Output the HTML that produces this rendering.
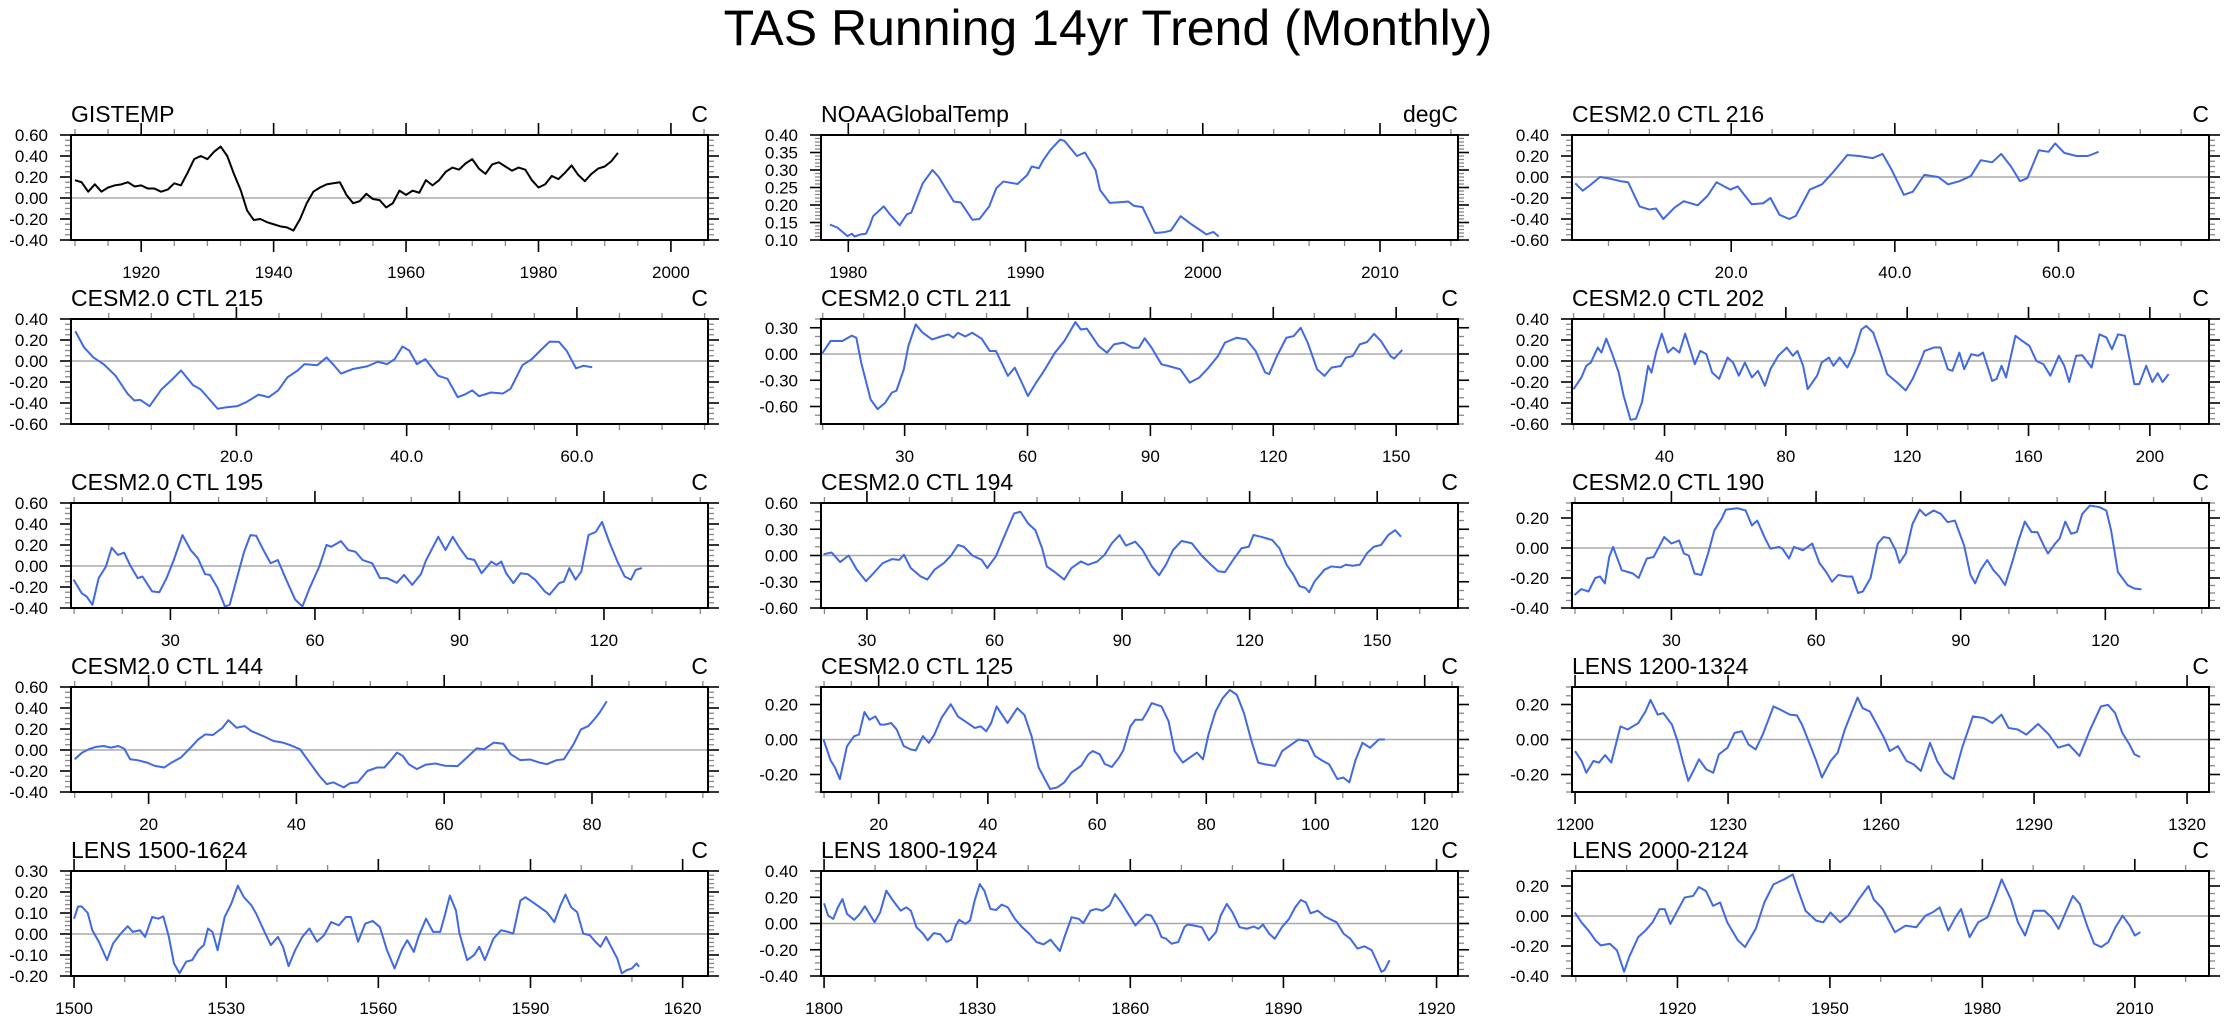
<!DOCTYPE html>
<html><head><meta charset="utf-8"><title>TAS Running 14yr Trend (Monthly)</title>
<style>
html,body{margin:0;padding:0;background:#fff;}
svg{display:block;font-family:"Liberation Sans",Arial,sans-serif;}
</style></head>
<body>
<svg id="fig" xmlns="http://www.w3.org/2000/svg" width="2230" height="1026" viewBox="0 0 2230 1026">
<rect x="0" y="0" width="2230" height="1026" fill="#fff"/>
<text x="1108" y="45" font-size="50" text-anchor="middle" fill="#000">TAS Running 14yr Trend (Monthly)</text>
</svg>
<script>
// ---- data arrays (x = time, y = trend) ----
const gisX=[1910,1911,1912,1913,1914,1915,1916,1917,1918,1919,1920,1921,1922,1923,1924,1925,1926,1927,1928,1929,1930,1931,1932,1933,1934,1935,1936,1937,1938,1939,1940,1941,1942,1943,1944,1945,1946,1947,1948,1949,1950,1951,1952,1953,1954,1955,1956,1957,1958,1959,1960,1961,1962,1963,1964,1965,1966,1967,1968,1969,1970,1971,1972,1973,1974,1975,1976,1977,1978,1979,1980,1981,1982,1983,1984,1985,1986,1987,1988,1989,1990,1991,1992];
const gisY=[0.17,0.15,0.06,0.13,0.06,0.10,0.12,0.13,0.15,0.11,0.12,0.09,0.09,0.06,0.08,0.14,0.12,0.24,0.37,0.40,0.37,0.44,0.49,0.40,0.23,0.08,-0.12,-0.21,-0.20,-0.23,-0.25,-0.27,-0.28,-0.31,-0.20,-0.05,0.06,0.10,0.13,0.14,0.15,0.03,-0.05,-0.03,0.04,-0.01,-0.02,-0.09,-0.05,0.07,0.03,0.07,0.05,0.17,0.12,0.17,0.25,0.29,0.27,0.33,0.37,0.28,0.23,0.32,0.34,0.30,0.26,0.29,0.27,0.17,0.10,0.13,0.21,0.18,0.24,0.31,0.22,0.16,0.23,0.28,0.30,0.35,0.43];

const noaaX=[1978.96,1979.4,1979.95,1980.2,1980.35,1980.7,1981,1981.2,1981.4,1982,1982.35,1982.9,1983.3,1983.55,1984.2,1984.75,1985.1,1985.95,1986.35,1987,1987.4,1987.95,1988.35,1988.75,1989.55,1990.1,1990.35,1990.75,1991,1991.4,1991.95,1992.2,1992.9,1993.35,1993.95,1994.2,1994.75,1995.3,1995.8,1996.1,1996.6,1997.3,1997.8,1998.2,1998.75,1999.3,1999.95,2000.2,2000.6,2000.9];
const noaaY=[0.144,0.135,0.111,0.118,0.11,0.116,0.118,0.14,0.168,0.196,0.173,0.142,0.173,0.178,0.262,0.30,0.28,0.21,0.207,0.158,0.16,0.196,0.248,0.267,0.26,0.286,0.31,0.305,0.328,0.357,0.387,0.383,0.34,0.35,0.30,0.243,0.206,0.208,0.21,0.198,0.194,0.12,0.122,0.127,0.168,0.147,0.125,0.116,0.123,0.11];

const c216X=[0.94,1.85,2.8,3.96,5.1,6.5,7.4,8.8,10,10.8,11.7,13.1,14.2,15.9,17.1,18.2,19.9,20.8,22.5,23.9,24.8,25.9,27.1,27.9,29.6,31.1,32.5,34.2,35.6,37.3,38.5,39.6,41.1,42.2,43.6,45.3,46.5,47.9,49.3,50.5,51.9,53.0,54.2,55.3,56.2,57.6,58.8,59.6,60.7,62.2,63.6,64.9];
const c216Y=[-0.06,-0.13,-0.075,0.0,-0.015,-0.04,-0.05,-0.28,-0.31,-0.30,-0.40,-0.29,-0.23,-0.27,-0.18,-0.05,-0.12,-0.09,-0.26,-0.25,-0.20,-0.36,-0.40,-0.37,-0.12,-0.07,0.05,0.21,0.20,0.18,0.22,0.07,-0.17,-0.14,0.02,0.0,-0.07,-0.04,0.01,0.16,0.14,0.22,0.10,-0.04,-0.01,0.255,0.24,0.32,0.23,0.20,0.20,0.24];

const c215X=[1.08,2.1,3.2,4.4,5.8,7.2,8.0,8.7,9.8,11.2,12.4,13.5,14.9,15.8,17.8,18.9,20.1,21.2,22.6,23.8,24.9,26,27.2,28,29.5,30.6,31.5,32.3,33.7,35.4,36.6,37.7,38.6,39.5,40.3,41.2,42.2,43.7,44.8,46,46.8,47.7,48.5,49.9,51.3,52.2,53.6,54.7,55.8,56.8,57.9,58.8,59.9,60.8,61.8];
const c215Y=[0.283,0.13,0.034,-0.03,-0.14,-0.31,-0.376,-0.37,-0.43,-0.27,-0.18,-0.09,-0.23,-0.27,-0.455,-0.44,-0.43,-0.39,-0.32,-0.345,-0.28,-0.155,-0.09,-0.03,-0.04,0.034,-0.045,-0.12,-0.076,-0.05,-0.007,-0.03,0.018,0.138,0.1,-0.03,0.018,-0.14,-0.17,-0.345,-0.32,-0.28,-0.335,-0.30,-0.31,-0.265,-0.04,0.018,0.107,0.185,0.182,0.097,-0.07,-0.045,-0.06];

const c211X=[9.9,11.9,14.8,17.1,18.2,19.4,21.7,23.4,25.2,26.9,28,29.8,30.9,32.7,34.4,36.7,38.9,40.7,41.9,43,44.8,46.5,48.8,50.8,52.3,55.2,56.9,58.6,60.1,62.1,63.8,66.7,69,71.7,73,74.5,77.4,79.4,81.1,83.4,85.7,87.2,88.6,90.3,92.7,94.4,97.3,99.6,101.9,104.2,106.5,108.2,111.1,113.4,115.7,118,119,120.9,123.2,125,126.7,128.4,130.7,132.5,134.2,136.5,137.7,139.4,141.1,142.9,144.6,146.3,148.6,149.5,151.5];
const c211Y=[0.008,0.148,0.148,0.21,0.186,-0.1,-0.52,-0.63,-0.56,-0.44,-0.42,-0.175,0.09,0.338,0.243,0.167,0.2,0.224,0.186,0.243,0.2,0.243,0.175,0.034,0.034,-0.25,-0.156,-0.327,-0.48,-0.327,-0.21,0.015,0.148,0.365,0.28,0.29,0.09,0.015,0.11,0.13,0.072,0.072,0.18,0.072,-0.118,-0.137,-0.175,-0.327,-0.27,-0.156,-0.023,0.13,0.186,0.167,0.034,-0.21,-0.23,-0.023,0.186,0.205,0.3,0.13,-0.175,-0.25,-0.156,-0.137,-0.042,-0.023,0.11,0.137,0.23,0.148,-0.023,-0.053,0.046];

const c202X=[10,12.6,14.2,15.7,18,19.2,20.8,22.6,24.9,26.5,28.8,30.6,32.6,34.6,35.7,37.2,39.1,41.1,42.9,44.9,46.8,48.8,50,51.8,53.8,55.7,58,60.8,62.6,64.5,66.5,68.8,70.8,73.1,74.9,77.5,80.3,82.3,83.8,85.7,87.2,90.3,91.8,94.2,95.7,97.7,100.3,102.6,104.9,106.5,108.8,111.1,113.4,116.5,119.5,121.8,124.2,125.7,128.8,131,133.4,134.9,137.2,138.8,141.1,143.4,145,148,149.5,151.1,152.6,155.7,158,160.3,162.6,164.9,167.2,170,171.8,173.4,175.7,177.7,180.8,183.4,185.7,187.5,189.5,191.8,194.9,196.5,198.8,200.8,202.6,204.2,206.2];
const c202Y=[-0.268,-0.157,-0.046,-0.015,0.128,0.08,0.213,0.08,-0.11,-0.33,-0.56,-0.55,-0.39,-0.046,-0.11,0.08,0.26,0.08,0.128,0.08,0.26,0.08,-0.03,0.096,0.065,-0.11,-0.17,0.033,-0.015,-0.14,-0.015,-0.157,-0.094,-0.236,-0.078,0.05,0.128,0.05,0.096,-0.046,-0.268,-0.14,-0.015,0.033,-0.046,0.033,-0.062,0.08,0.30,0.334,0.27,0.08,-0.125,-0.2,-0.28,-0.17,-0.015,0.096,0.128,0.128,-0.078,-0.094,0.08,-0.078,0.065,0.05,0.08,-0.19,-0.17,-0.046,-0.157,0.24,0.19,0.144,0.0,-0.03,-0.14,0.05,-0.046,-0.2,0.05,0.055,-0.062,0.254,0.223,0.112,0.254,0.24,-0.22,-0.22,-0.046,-0.2,-0.116,-0.2,-0.125];

const c195X=[9.9,11.6,12.6,13.8,15.1,16.6,17.8,19.1,20.4,21.6,23.2,24.2,26.2,27.7,29.2,30.7,32.5,34.2,35.7,37.2,38.2,39.8,41.3,42.3,43.8,45.3,46.6,47.8,49.3,50.8,52.3,53.9,55.9,57.4,58.9,60.9,62.4,63.4,65.4,66.9,68.4,69.9,71.9,73.5,75,77,78.5,80.2,82,83,85.6,87.1,88.6,90.1,91.6,93.1,94.6,96.6,97.7,98.7,99.7,101.2,102.7,104.2,105.7,107.7,108.7,110.7,111.7,112.8,114.1,115.3,116.8,118.3,119.6,121.1,122.8,124.3,125.6,126.6,127.9];
const c195Y=[-0.13,-0.26,-0.29,-0.37,-0.116,-0.006,0.174,0.105,0.127,0.01,-0.116,-0.1,-0.242,-0.25,-0.116,0.057,0.294,0.152,0.073,-0.078,-0.085,-0.21,-0.385,-0.37,-0.116,0.136,0.294,0.288,0.152,0.026,0.057,-0.116,-0.32,-0.385,-0.21,-0.006,0.2,0.183,0.237,0.152,0.136,0.057,0.026,-0.116,-0.116,-0.16,-0.085,-0.18,-0.078,0.048,0.278,0.152,0.278,0.168,0.073,0.057,-0.069,0.042,0.01,0.042,-0.069,-0.163,-0.069,-0.078,-0.13,-0.242,-0.274,-0.163,-0.148,-0.02,-0.13,-0.053,0.294,0.325,0.42,0.23,0.042,-0.1,-0.13,-0.037,-0.02];

const c194X=[19.8,21.7,23.7,25.7,27.6,29.8,31.4,33.7,35.9,37.6,38.7,40.3,42.6,44.2,45.9,48.1,49.8,51.4,52.8,54.8,57,58.3,60.3,62.6,64.6,66.1,67.9,69.6,71.2,72.3,74.2,76.4,78.1,80.3,82,84.2,85.9,87.6,89.4,90.9,93.1,94.8,97,98.7,100.3,102,104,106.4,108.7,110.9,112.6,114.2,116.4,118.1,119.8,120.9,122.6,125.3,127,128.7,130.3,131.7,133.1,134,135.3,137.6,139.2,141.4,142.6,144.2,145.9,147.6,149.2,150.9,152.6,154.2,155.6];
const c194Y=[0.015,0.034,-0.075,0,-0.16,-0.294,-0.21,-0.087,-0.042,-0.05,0.008,-0.143,-0.238,-0.275,-0.162,-0.087,0,0.12,0.1,0,-0.05,-0.143,-0.011,0.253,0.48,0.5,0.366,0.29,0.083,-0.125,-0.19,-0.275,-0.143,-0.068,-0.106,-0.068,0.008,0.14,0.234,0.113,0.158,0.064,-0.125,-0.226,-0.106,0.064,0.166,0.14,0,-0.106,-0.18,-0.19,-0.03,0.083,0.1,0.234,0.215,0.177,0.083,-0.106,-0.22,-0.35,-0.37,-0.42,-0.294,-0.162,-0.125,-0.136,-0.106,-0.117,-0.106,0.026,0.1,0.12,0.234,0.29,0.215];

const c190X=[9.9,11.3,12.8,14.2,15.2,16.2,17.1,17.9,19.7,21,22,23.2,24.9,26.3,28.5,30,31.6,32.6,33.6,34.8,36.2,37.6,38.9,40.4,41.3,43.7,45.4,46.7,47.8,49.3,50.5,52.3,53,54.4,55.4,57.3,59.2,60.7,62.1,63.3,64.6,66.5,67.5,68.7,69.7,71.3,72.8,74,75.2,76.5,77.3,78.6,80,81.5,82.7,84.4,85.9,87.3,88.8,90.7,92,93,94.1,95.5,96.8,98,99.2,100.7,102,103.3,104.7,105.9,107.2,108.1,109.6,110.5,111.7,112.9,114.1,115.2,116.8,118.8,120.2,121.2,122.6,124.6,126,127.5];
const c190Y=[-0.313,-0.274,-0.29,-0.2,-0.19,-0.236,-0.06,0.007,-0.148,-0.16,-0.17,-0.2,-0.07,-0.06,0.073,0.03,0.05,-0.037,-0.05,-0.17,-0.18,-0.037,0.117,0.194,0.256,0.265,0.25,0.15,0.183,0.073,-0.004,0.007,-0.004,-0.07,0.007,-0.015,0.03,-0.1,-0.16,-0.225,-0.18,-0.19,-0.19,-0.3,-0.29,-0.2,0.03,0.073,0.066,-0.015,-0.1,-0.037,0.16,0.256,0.216,0.25,0.227,0.172,0.183,0.018,-0.177,-0.236,-0.148,-0.08,-0.148,-0.19,-0.247,-0.093,0.05,0.176,0.106,0.106,0.018,-0.037,0.03,0.062,0.176,0.095,0.106,0.227,0.283,0.272,0.25,0.117,-0.16,-0.247,-0.27,-0.276];

const c144X=[10,11,11.9,12.9,13.9,14.9,15.9,16.7,17.5,18.5,19.8,20.8,22.1,23.1,24.4,25.7,26.7,27.7,28.7,30,30.8,31.9,33,33.9,35.5,36.9,38.2,39.1,40.5,41.8,43.1,44.1,45,46.4,47.3,48.3,49.6,50.9,51.9,52.9,53.6,54.4,55.2,56.3,57.5,58.8,60.1,61.8,63.1,64.4,65.4,66.7,68,69,70.3,71.6,72.9,73.9,75.2,76.2,77.5,78.5,79.5,80.5,81.1,82];
const c144Y=[-0.088,-0.025,0.007,0.03,0.038,0.023,0.038,0.013,-0.088,-0.097,-0.12,-0.15,-0.167,-0.12,-0.07,0.023,0.1,0.149,0.143,0.212,0.284,0.212,0.228,0.18,0.133,0.086,0.07,0.048,0.007,-0.12,-0.245,-0.325,-0.308,-0.356,-0.315,-0.308,-0.2,-0.167,-0.167,-0.088,-0.025,-0.056,-0.135,-0.182,-0.14,-0.128,-0.15,-0.154,-0.07,0.016,0.007,0.07,0.06,-0.04,-0.097,-0.09,-0.12,-0.135,-0.097,-0.088,0.054,0.196,0.228,0.307,0.363,0.464];

const c125X=[9.9,11.2,12,12.9,14.2,15.5,16.4,17.4,18.3,19.4,20.3,21.1,22.3,23.3,24.6,25.9,26.8,28.1,29.2,30.2,31.5,33.2,34.5,36.3,37.6,38.7,39.7,40.6,41.6,43.6,45.4,46.7,48,49.3,50.6,51.4,52.7,54,55.3,57.1,58.4,59.2,60.5,61.4,62.7,64,64.8,66.1,67,68.3,69.2,70,71.8,73.1,74.2,75.7,77.4,78.3,79.4,80.4,81.7,83,84.3,85.6,86.9,88.2,89.5,90.8,92.6,93.9,95.6,96.9,98.6,99.9,101.2,102.5,104,105.1,106.2,107.3,108.6,110,111.6,112.7];
const c125Y=[0,-0.12,-0.16,-0.226,-0.038,0.019,0.028,0.157,0.113,0.132,0.085,0.085,0.094,0.057,-0.038,-0.057,-0.062,0.019,-0.019,0.028,0.123,0.202,0.132,0.094,0.066,0.075,0.047,0.094,0.189,0.094,0.179,0.14,0.019,-0.16,-0.236,-0.283,-0.274,-0.245,-0.189,-0.15,-0.085,-0.066,-0.085,-0.14,-0.157,-0.104,-0.062,0.075,0.113,0.113,0.16,0.208,0.189,0.104,-0.066,-0.132,-0.094,-0.075,-0.113,0.028,0.16,0.236,0.283,0.255,0.151,0,-0.132,-0.142,-0.151,-0.066,-0.028,0,-0.009,-0.094,-0.12,-0.142,-0.226,-0.217,-0.245,-0.12,-0.019,-0.047,0,0];

const l1200X=[1200,1201.3,1202.2,1203.6,1204.7,1205.9,1207.1,1208.9,1210.3,1212.4,1213.8,1214.8,1216.2,1217.3,1219,1220.1,1221.1,1222.2,1223.2,1224.3,1225.7,1227.1,1228.2,1229.9,1231.3,1232.7,1234,1235.4,1236.8,1238.9,1240.3,1242.1,1243.5,1244.5,1246.3,1247.3,1248.4,1250.1,1251.5,1252.9,1254.3,1255.4,1256.4,1257.8,1259.2,1260.6,1261.7,1263.3,1265,1266.4,1267.8,1269.6,1271,1272.4,1274.2,1275.9,1278,1280.1,1281.8,1283.6,1285,1286.8,1288.5,1290.8,1292.9,1294.7,1296.8,1298.9,1301,1303.1,1304.5,1305.9,1307.3,1308.7,1309.7,1310.8];
const l1200Y=[-0.066,-0.123,-0.19,-0.123,-0.132,-0.089,-0.132,0.075,0.057,0.094,0.16,0.226,0.142,0.151,0.085,-0.009,-0.123,-0.236,-0.18,-0.113,-0.17,-0.19,-0.085,-0.047,0.038,0.047,-0.028,-0.057,0.028,0.189,0.17,0.142,0.138,0.085,-0.047,-0.123,-0.217,-0.123,-0.075,0.057,0.16,0.24,0.179,0.16,0.085,0.009,-0.066,-0.038,-0.123,-0.142,-0.18,-0.019,-0.123,-0.19,-0.226,-0.047,0.132,0.123,0.094,0.142,0.066,0.057,0.028,0.089,0.028,-0.047,-0.028,-0.094,0.057,0.189,0.198,0.151,0.038,-0.028,-0.085,-0.1];

const l1500X=[1500,1500.8,1501.5,1502.7,1503.6,1504.9,1506.5,1507.7,1509.2,1510.6,1511.6,1513,1514,1515.4,1516.6,1517.6,1518.7,1519.7,1520.8,1522.1,1523.3,1524.5,1525.6,1526.4,1527.3,1528.3,1529.7,1531,1532.3,1533.5,1535,1535.9,1537.4,1538.8,1540.2,1541.2,1542.3,1543.6,1545,1546.4,1547.9,1549.3,1550.7,1552.2,1553.6,1554.6,1556,1557.4,1558.9,1560.3,1561.7,1563.2,1564.6,1565.7,1567,1567.9,1569.4,1570.8,1572.2,1573.2,1574.1,1575.3,1576,1577.5,1578.9,1579.9,1581,1582.7,1584.2,1585.6,1586.6,1588,1589,1590.4,1591.8,1593.2,1594.7,1595.9,1596.9,1598,1599.2,1600.4,1601.7,1602.8,1603.8,1604.9,1605.9,1607.1,1608,1609,1610,1610.9,1611.4];
const l1500Y=[0.073,0.131,0.131,0.1,0.018,-0.037,-0.124,-0.045,0.002,0.037,0.01,0.018,-0.014,0.081,0.073,0.084,-0.014,-0.14,-0.187,-0.132,-0.124,-0.077,-0.053,0.026,0.01,-0.077,0.081,0.144,0.23,0.175,0.136,0.097,0.018,-0.053,-0.014,-0.061,-0.153,-0.077,-0.014,0.026,-0.037,-0.006,0.057,0.041,0.081,0.081,-0.037,0.049,0.062,0.033,-0.077,-0.164,-0.077,-0.03,-0.085,-0.014,0.073,0.01,0.01,0.097,0.183,0.112,0.002,-0.124,-0.1,-0.061,-0.124,-0.022,0.018,0.01,0.002,0.159,0.175,0.152,0.128,0.104,0.057,0.136,0.188,0.128,0.104,0.002,-0.006,-0.037,-0.061,-0.014,-0.061,-0.116,-0.187,-0.172,-0.164,-0.14,-0.156];

const l1800X=[1800,1800.8,1801.8,1802.7,1803.6,1804.5,1805.9,1806.9,1808,1808.9,1809.9,1811,1812.2,1813.3,1815,1816.1,1817,1818.1,1819.4,1820.3,1821.5,1822.8,1824,1824.9,1825.8,1826.5,1827.7,1828.6,1829.5,1830.5,1831.4,1832.6,1833.7,1834.8,1836,1837.4,1838.8,1840.2,1841.6,1843,1844.4,1845,1846.2,1847.1,1848.5,1849.9,1850.8,1852.2,1853.3,1854.5,1855.9,1857,1858.2,1859.6,1861,1861.9,1863.1,1864.1,1865.2,1866.1,1867,1868.1,1869.4,1870.6,1871.2,1872.4,1874,1875.4,1876.8,1877.7,1878.9,1880,1881.4,1882.8,1884.2,1885.1,1886,1887.2,1888.3,1889.7,1891.1,1892.3,1893.4,1894.4,1895.3,1896.7,1898.1,1899.4,1900.4,1901.8,1903.1,1904.5,1905.9,1907.3,1908.2,1909.2,1909.8,1910.8];
const l1800Y=[0.154,0.06,0.035,0.123,0.186,0.073,0.028,0.068,0.131,0.073,0.01,0.086,0.25,0.186,0.098,0.123,0.098,-0.028,-0.078,-0.128,-0.073,-0.083,-0.141,-0.123,-0.015,0.028,-0.003,0.023,0.174,0.3,0.25,0.111,0.103,0.144,0.123,0.035,-0.028,-0.078,-0.141,-0.159,-0.123,-0.154,-0.209,-0.103,0.048,0.035,0.003,0.098,0.111,0.098,0.136,0.224,0.161,0.073,-0.015,0.023,0.068,0.06,-0.015,-0.103,-0.116,-0.154,-0.141,-0.028,-0.008,-0.015,-0.028,-0.128,-0.065,0.06,0.149,0.086,-0.028,-0.04,-0.023,-0.04,-0.008,-0.078,-0.116,-0.028,0.035,0.123,0.179,0.161,0.078,0.098,0.053,0.028,0.01,-0.078,-0.116,-0.191,-0.174,-0.204,-0.28,-0.368,-0.355,-0.28];

const l2000X=[1899.8,1901.1,1902.5,1903.9,1904.9,1906.7,1908.1,1909.5,1910.5,1912.3,1913.7,1915.1,1916.5,1917.5,1918.6,1920,1921.4,1923.1,1924.2,1925.6,1927,1928.4,1929.8,1931.9,1933.3,1935.4,1937.1,1938.9,1941,1942.7,1943.8,1945.2,1947.3,1948.7,1950.1,1952,1953.6,1955.7,1957.6,1958.6,1960.4,1962.8,1964.9,1967,1968.8,1970.2,1971.6,1973.3,1974.7,1975.8,1977.5,1979.2,1981,1982.4,1983.8,1985.6,1987,1988.4,1990.1,1992.2,1993.6,1995,1996.4,1997.8,1999.2,2000.6,2002,2003.4,2004.8,2006.2,2007.6,2009,2010,2011.1];
const l2000Y=[0.024,-0.042,-0.097,-0.163,-0.196,-0.185,-0.229,-0.371,-0.273,-0.14,-0.097,-0.042,0.046,0.046,-0.053,0.035,0.123,0.134,0.193,0.167,0.068,0.09,-0.042,-0.163,-0.207,-0.086,0.09,0.211,0.244,0.277,0.167,0.035,-0.031,-0.042,0.024,-0.042,0.002,0.112,0.2,0.112,0.046,-0.108,-0.064,-0.075,0.002,0.024,0.057,-0.097,-0.009,0.046,-0.141,-0.042,-0.009,0.112,0.244,0.112,-0.042,-0.13,0.035,0.035,-0.009,-0.086,0.024,0.134,0.079,-0.064,-0.185,-0.207,-0.174,-0.075,0.002,-0.064,-0.13,-0.108];

// panel titles / units
const panelTitles=["GISTEMP","NOAAGlobalTemp","CESM2.0 CTL 216","CESM2.0 CTL 215","CESM2.0 CTL 211","CESM2.0 CTL 202","CESM2.0 CTL 195","CESM2.0 CTL 194","CESM2.0 CTL 190","CESM2.0 CTL 144","CESM2.0 CTL 125","LENS 1200-1324","LENS 1500-1624","LENS 1800-1924","LENS 2000-2124"];
const panelUnits=["C","degC","C","C","C","C","C","C","C","C","C","C","C","C","C"];
const seriesX=[gisX,noaaX,c216X,c215X,c211X,c202X,c195X,c194X,c190X,c144X,c125X,l1200X,l1500X,l1800X,l2000X];
const seriesY=[gisY,noaaY,c216Y,c215Y,c211Y,c202Y,c195Y,c194Y,c190Y,c144Y,c125Y,l1200Y,l1500Y,l1800Y,l2000Y];

// axis settings (ranges and tick steps)
const axes=[
 {xmin:1909.4,xmax:2005.6,xMaj:20,xMin:5,xDec:0,ymin:-0.4,ymax:0.6,yMaj:0.2,yMin:0.05},
 {xmin:1978.46,xmax:2014.4,xMaj:10,xMin:2,xDec:0,ymin:0.1,ymax:0.4,yMaj:0.05,yMin:0.01},
 {xmin:0.54,xmax:78.4,xMaj:20,xMin:5,xDec:1,ymin:-0.6,ymax:0.4,yMaj:0.2,yMin:0.05},
 {xmin:0.57,xmax:75.4,xMaj:20,xMin:5,xDec:1,ymin:-0.6,ymax:0.4,yMaj:0.2,yMin:0.05},
 {xmin:9.58,xmax:165.1,xMaj:30,xMin:10,xDec:0,ymin:-0.8,ymax:0.4,yMaj:0.3,yMin:0.1},
 {xmin:9.5,xmax:219.5,xMaj:40,xMin:10,xDec:0,ymin:-0.6,ymax:0.4,yMaj:0.2,yMin:0.05},
 {xmin:9.36,xmax:141.6,xMaj:30,xMin:10,xDec:0,ymin:-0.4,ymax:0.6,yMaj:0.2,yMin:0.05},
 {xmin:19.2,xmax:169,xMaj:30,xMin:10,xDec:0,ymin:-0.6,ymax:0.6,yMaj:0.3,yMin:0.1},
 {xmin:9.38,xmax:141.5,xMaj:30,xMin:10,xDec:0,ymin:-0.4,ymax:0.3,yMaj:0.2,yMin:0.05},
 {xmin:9.5,xmax:95.7,xMaj:20,xMin:5,xDec:0,ymin:-0.4,ymax:0.6,yMaj:0.2,yMin:0.05},
 {xmin:9.44,xmax:126.1,xMaj:20,xMin:5,xDec:0,ymin:-0.3,ymax:0.3,yMaj:0.2,yMin:0.05},
 {xmin:1199.4,xmax:1324.3,xMaj:30,xMin:10,xDec:0,ymin:-0.3,ymax:0.3,yMaj:0.2,yMin:0.05},
 {xmin:1499.4,xmax:1625,xMaj:30,xMin:10,xDec:0,ymin:-0.2,ymax:0.3,yMaj:0.1,yMin:0.02},
 {xmin:1799.4,xmax:1924.2,xMaj:30,xMin:10,xDec:0,ymin:-0.4,ymax:0.4,yMaj:0.2,yMin:0.05},
 {xmin:1899.25,xmax:2024.6,xMaj:30,xMin:10,xDec:0,ymin:-0.4,ymax:0.3,yMaj:0.2,yMin:0.05}
];

const NS="http://www.w3.org/2000/svg";
const svg=document.getElementById('fig');
const PW=637, PH=105;
const colLeft=[71,821,1572];
function mk(tag,attrs,parent){const e=document.createElementNS(NS,tag);for(const k in attrs)e.setAttribute(k,attrs[k]);(parent||svg).appendChild(e);return e;}
function ticksBetween(lo,hi,step){const out=[];const eps=step*1e-6;let k=Math.ceil((lo-eps)/step);for(;k*step<=hi+eps;k++){out.push(+(k*step).toFixed(6));}return out;}

for(let i=0;i<15;i++){
  const a=axes[i];
  const L=colLeft[i%3], T=135+184*Math.floor(i/3), R=L+PW, B=T+PH;
  const sx=v=>L+(v-a.xmin)/(a.xmax-a.xmin)*PW;
  const sy=v=>B-(v-a.ymin)/(a.ymax-a.ymin)*PH;
  const g=mk('g',{});
  
  

  // title + unit
  const tt=mk('text',{x:L,y:T-13,'font-size':23,fill:'#000'},g);tt.textContent=panelTitles[i];
  
  
  const ut=mk('text',{x:R,y:T-13,'font-size':23,fill:'#000','text-anchor':'end'},g);ut.textContent=panelUnits[i];
  
  

  // zero line
  if(a.ymin<0&&a.ymax>0){
    const z=mk('line',{x1:L,x2:R,y1:sy(0),y2:sy(0),stroke:'#aaaaaa','stroke-width':1.6},g);
    
    
  }

  // y ticks
  const yMinorT=ticksBetween(a.ymin,a.ymax,a.yMin);
  const yMajorT=ticksBetween(a.ymin,a.ymax,a.yMaj);
  yMinorT.forEach(v=>{
    if(yMajorT.some(m=>Math.abs(m-v)<1e-6))return;
    const y=sy(v);
    mk('line',{x1:L-6,x2:L,y1:y,y2:y,stroke:'#888','stroke-width':1.3},g);
    mk('line',{x1:R,x2:R+6,y1:y,y2:y,stroke:'#888','stroke-width':1.3},g);
  });
  yMajorT.forEach(v=>{
    const y=sy(v);
    mk('line',{x1:L-11,x2:L,y1:y,y2:y,stroke:'#000','stroke-width':1.6},g);
    mk('line',{x1:R,x2:R+11,y1:y,y2:y,stroke:'#000','stroke-width':1.6},g);
    const lb=mk('text',{x:L-23,y:y+6,'font-size':17,'text-anchor':'end',fill:'#000'},g);
    lb.textContent=v.toFixed(2);
    
    
  });

  // x ticks
  const xMinorT=ticksBetween(a.xmin,a.xmax,a.xMin);
  const xMajorT=ticksBetween(a.xmin,a.xmax,a.xMaj);
  xMinorT.forEach(v=>{
    if(xMajorT.some(m=>Math.abs(m-v)<1e-6))return;
    const x=sx(v);
    mk('line',{x1:x,x2:x,y1:B,y2:B+6,stroke:'#888','stroke-width':1.3},g);
    mk('line',{x1:x,x2:x,y1:T-6,y2:T,stroke:'#888','stroke-width':1.3},g);
  });
  xMajorT.forEach(v=>{
    const x=sx(v);
    mk('line',{x1:x,x2:x,y1:B,y2:B+12,stroke:'#000','stroke-width':1.6},g);
    mk('line',{x1:x,x2:x,y1:T-12,y2:T,stroke:'#000','stroke-width':1.6},g);
    const lb=mk('text',{x:x,y:B+38,'font-size':17,'text-anchor':'middle',fill:'#000'},g);
    lb.textContent=v.toFixed(a.xDec);
    
    
  });

  // series
  const xs=seriesX[i], ys=seriesY[i], n=Math.min(xs.length,ys.length);
  let d='';
  for(let k=0;k<n;k++){d+=(k?'L':'M')+sx(xs[k]).toFixed(2)+','+sy(ys[k]).toFixed(2);}
  const p=mk('path',{d:d,fill:'none',stroke:i===0?'#000':'#4169e1','stroke-width':2,'stroke-linejoin':'round'},g);
  
  

  // frame
  const fr=mk('rect',{x:L,y:T,width:PW,height:PH,fill:'none',stroke:'#000','stroke-width':2},g);
  
  
}
</script>
</body></html>
